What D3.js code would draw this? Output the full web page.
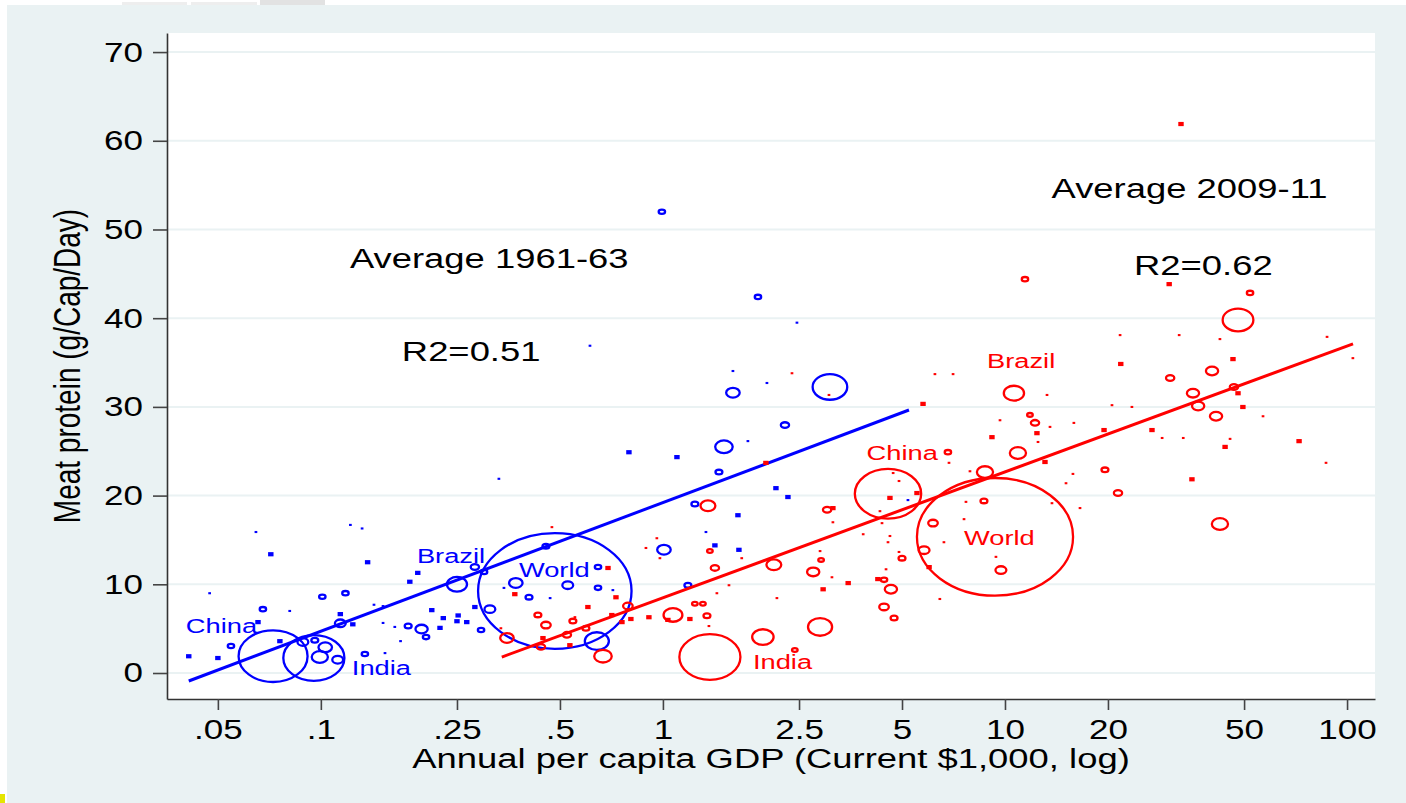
<!DOCTYPE html>
<html>
<head>
<meta charset="utf-8">
<script src="https://cdn.jsdelivr.net/npm/d3@7"></script>
<style>
  body { margin: 0; background: #fff; }
  text { font-family: "Liberation Sans", Arial, sans-serif; }
</style>
</head>
<body>
<div id="chart"></div>
<script>
// [gdp ($1,000), meat protein (g/cap/day), population (millions)]
const avg1961 = [
  [0.0646, 15.9, 0.9], [0.122, 16.7, 0.9], [0.132, 16.3, 0.9], [0.0714, 13.4, 3.6],
  [0.137, 12.5, 3.6], [0.192, 11.3, 3.6], [0.182, 10.3, 3.6], [0.0473, 9.0, 0.9],
  [0.101, 8.6, 9.7], [0.118, 9.0, 9.7], [0.0677, 7.2, 9.7], [0.0811, 7.0, 0.9],
  [0.114, 6.65, 3.6], [0.0655, 5.75, 3.6], [0.114, 5.6, 22], [0.124, 5.5, 3.6],
  [0.143, 7.7, 0.9], [0.152, 7.55, 0.9], [0.211, 7.1, 3.6], [0.228, 6.2, 3.6],
  [0.223, 5.1, 3.6], [0.252, 6.5, 3.6], [0.25, 5.85, 3.6], [0.267, 5.75, 3.6],
  [0.18, 5.3, 10.9], [0.197, 4.95, 27], [0.203, 4.05, 9.7], [0.152, 5.65, 0.9],
  [0.1645, 5.2, 0.9], [0.171, 3.6, 0.9], [0.0546, 3.05, 9.7], [0.0411, 1.9, 3.6],
  [0.05, 1.7, 3.6], [0.0759, 3.6, 3.6], [0.0725, 1.9, 649], [0.0954, 1.7, 513],
  [0.0886, 3.5, 22], [0.096, 3.7, 10.9], [0.103, 2.9, 32], [0.0993, 1.8, 43.6],
  [0.112, 1.5, 22], [0.1345, 2.15, 9.7], [0.154, 2.25, 0.9], [0.25, 10.0, 64],
  [0.282, 11.95, 14.2], [0.30, 11.4, 9.7], [0.282, 7.45, 3.6], [0.312, 7.2, 22],
  [0.294, 4.85, 9.7], [0.483, 9.25, 3098], [0.3715, 10.15, 32], [0.406, 8.55, 10.9],
  [0.527, 9.9, 22], [0.646, 11.95, 9.7], [0.646, 9.6, 9.7], [0.455, 14.3, 10.9],
  [0.343, 9.6, 0.9], [0.468, 8.45, 0.9], [0.714, 9.35, 0.9], [0.641, 3.6, 89],
  [1.007, 13.9, 32], [1.24, 19.05, 10.9], [1.336, 15.9, 0.9], [1.419, 14.4, 3.6],
  [1.183, 9.9, 10.9], [1.896, 42.4, 9.7], [2.465, 39.5, 0.9], [1.602, 34.05, 0.9],
  [2.014, 32.7, 0.9], [1.602, 31.6, 32], [3.078, 32.25, 174], [2.274, 27.95, 14.2],
  [1.772, 26.15, 0.9], [1.508, 25.5, 50], [0.7955, 24.9, 3.6], [1.099, 24.35, 3.6],
  [1.458, 22.65, 10.9], [2.14, 20.85, 3.6], [2.32, 19.85, 3.6], [1.657, 17.8, 3.6],
  [1.668, 13.9, 3.6], [5.204, 19.5, 0.9], [0.993, 52.0, 9.7], [0.612, 36.9, 0.9],
  [0.3315, 21.9, 0.9]
];

const avg2009 = [
  [32.7, 61.9, 7.7], [11.44, 44.4, 20.9], [30.2, 43.85, 7.7], [52.05, 42.85, 20.9],
  [48.0, 39.8, 300], [21.7, 38.1, 1.9], [32.3, 38.1, 1.9], [42.5, 37.65, 1.9],
  [87.4, 37.9, 1.9], [104, 35.5, 1.9], [46.4, 35.4, 7.7], [21.8, 34.85, 7.7],
  [6.24, 33.7, 1.9], [7.05, 33.7, 1.9], [30.4, 33.25, 30.7], [40.3, 34.05, 58],
  [10.62, 31.55, 140], [13.27, 31.35, 1.9], [46.7, 32.25, 30.7], [48.0, 31.55, 7.7],
  [35.45, 31.55, 58], [49.6, 30.0, 7.7], [36.7, 30.1, 58], [41.4, 28.95, 58],
  [5.76, 30.35, 7.7], [11.83, 29.1, 17.3], [12.24, 28.2, 30.7], [9.67, 28.5, 1.9],
  [13.54, 27.75, 1.9], [15.9, 28.2, 1.9], [20.55, 30.2, 1.9], [23.5, 30.0, 1.9],
  [9.16, 26.6, 7.7], [19.48, 27.4, 7.7], [26.9, 27.4, 7.7], [28.8, 26.5, 1.9],
  [33.2, 26.5, 1.9], [45.5, 26.4, 1.9], [56.8, 28.95, 1.9], [44.0, 25.5, 7.7],
  [72.4, 26.15, 7.7], [86.8, 23.7, 1.9], [10.91, 24.8, 94], [13.09, 23.8, 7.7],
  [12.4, 27.05, 7.7], [12.49, 26.05, 1.9], [19.6, 22.9, 23.5], [15.8, 22.45, 1.9],
  [15.08, 21.4, 1.9], [35.2, 21.85, 7.7], [21.4, 20.3, 30.7], [16.57, 18.6, 1.9],
  [13.72, 19.15, 1.9], [42.5, 16.8, 94], [8.74, 22.65, 94], [7.9, 22.75, 1.9],
  [6.86, 23.7, 1.9], [6.81, 24.9, 20.9], [8.68, 19.4, 23.5], [7.69, 19.3, 1.9],
  [7.59, 17.35, 1.9], [6.63, 14.75, 1.9], [4.55, 20.2, 1297], [4.61, 19.75, 7.7],
  [5.53, 20.3, 7.7], [4.71, 22.55, 1.9], [4.9, 21.65, 1.9], [9.35, 15.35, 6906],
  [6.16, 16.9, 38.8], [5.8, 13.85, 48], [6.0, 11.95, 7.7], [9.73, 11.6, 48],
  [9.41, 13.1, 1.9], [5.0, 12.95, 23.5], [4.9, 13.65, 1.9], [4.61, 15.45, 1.9],
  [4.55, 14.75, 1.9], [3.85, 15.65, 1.9], [4.25, 10.6, 7.7], [4.43, 10.5, 20.9],
  [4.49, 11.7, 1.9], [4.64, 9.45, 58], [4.43, 7.45, 38.8], [4.74, 6.2, 23.5],
  [6.45, 8.35, 1.9], [4.31, 18.25, 1.9], [4.37, 16.9, 1.9], [3.48, 10.15, 7.7],
  [2.94, 9.45, 7.7], [3.12, 10.8, 1.9], [2.75, 11.4, 58], [2.9, 12.75, 17.3],
  [2.88, 13.75, 1.9], [3.14, 17.0, 1.9], [3.02, 18.4, 30.7], [3.14, 18.6, 7.7],
  [2.11, 12.2, 81], [1.70, 12.95, 1.9], [1.372, 13.75, 17.3], [1.419, 11.85, 30.7],
  [1.354, 18.85, 81], [0.96, 15.2, 1.9], [0.892, 14.1, 1.9], [0.98, 12.95, 1.9],
  [0.691, 11.85, 7.7], [0.369, 8.9, 7.7], [0.729, 8.55, 7.7], [0.6035, 7.45, 7.7],
  [0.79, 7.55, 38.8], [0.709, 6.55, 7.7], [0.759, 5.75, 7.7], [0.806, 6.1, 7.7],
  [0.91, 6.3, 7.7], [1.07, 6.55, 123], [1.034, 6.0, 7.7], [1.199, 6.1, 7.7],
  [1.24, 7.8, 17.3], [1.309, 7.8, 17.3], [1.345, 6.45, 23.5], [1.438, 9.0, 1.9],
  [1.56, 9.9, 1.9], [1.363, 5.3, 1.9], [2.154, 8.45, 1.9], [2.88, 5.2, 192],
  [1.96, 4.05, 155], [2.43, 2.6, 17.3], [1.372, 1.8, 1105], [0.668, 1.9, 108],
  [0.35, 3.95, 69], [0.336, 5.05, 1.9], [0.431, 6.55, 23.5], [0.455, 5.4, 38.8],
  [0.5455, 5.85, 23.5], [0.553, 6.3, 1.9], [0.5954, 5.05, 23.5], [0.524, 4.3, 30.7],
  [0.446, 3.95, 7.7], [0.5346, 3.15, 7.7], [0.44, 2.95, 30.7], [0.4737, 16.45, 1.9],
  [2.0, 23.7, 7.7], [2.384, 33.8, 1.9], [3.058, 31.35, 1.9]
];

// fitted lines (end points)
const fit1961 = [[0.0411, -0.9], [5.24, 29.65]];
const fit2009 = [[0.338, 1.8], [104.1, 37.1]];

// country labels: [text, gdp, protein]
const labels1961 = [["China", 0.0403, 4.5], ["India", 0.1232, -0.23], ["Brazil", 0.1909, 12.4], ["World", 0.3793, 10.82]];
const labels2009 = [["Brazil", 8.86, 34.4], ["China", 3.94, 24.0], ["World", 7.59, 14.43], ["India", 1.833, 0.45]];

// notes: [text, gdp, protein]
const notes = [["Average 1961-63", 0.1216, 45.66], ["R2=0.51", 0.1725, 35.17],
               ["Average 2009-11", 13.68, 53.55], ["R2=0.62", 23.84, 44.87]];

const xTicks = [0.05, 0.1, 0.25, 0.5, 1, 2.5, 5, 10, 20, 50, 100];
const xTickLabels = [".05", ".1", ".25", ".5", "1", "2.5", "5", "10", "20", "50", "100"];
const yTicks = [0, 10, 20, 30, 40, 50, 60, 70];

const width = 1406, height = 803;
const plot = { left: 167, right: 1375, top: 33, bottom: 699 };
const bg = "#eaf2f3";
const stretch = 1.3; // text is drawn a bit wide, as in the original

const svg = d3.select("#chart").append("svg")
  .attr("width", width)
  .attr("height", height);

// outer background
svg.append("rect").attr("x", 7).attr("y", 5).attr("width", width - 7).attr("height", height - 5).attr("fill", bg);
svg.append("rect").attr("x", 122).attr("y", 2).attr("width", 65).attr("height", 3).attr("fill", "#eeeeee");
svg.append("rect").attr("x", 191).attr("y", 2).attr("width", 66).attr("height", 3).attr("fill", "#eeeeee");
svg.append("rect").attr("x", 260).attr("y", 0).attr("width", 65).attr("height", 5).attr("fill", "#e2e2e2");
svg.append("rect").attr("x", 0).attr("y", 794).attr("width", 5).attr("height", 9).attr("fill", "#e5e500");

svg.append("rect")
  .attr("x", plot.left).attr("y", plot.top)
  .attr("width", plot.right - plot.left).attr("height", plot.bottom - plot.top)
  .attr("fill", "#fff");

// scales
const x = d3.scaleLog().domain([0.0355, 120.7]).range([plot.left, plot.right]);
const y = d3.scaleLinear().domain([-2.93, 72.15]).range([plot.bottom, plot.top]);
const r1961 = d3.scaleSqrt().domain([0, 3098]).range([0, 59]);
const r2009 = d3.scaleSqrt().domain([0, 6906]).range([0, 60]);

// gridlines
svg.append("g")
  .selectAll("line")
  .data(yTicks)
  .enter()
  .append("line")
  .attr("x1", plot.left).attr("x2", plot.right)
  .attr("y1", d => y(d)).attr("y2", d => y(d))
  .attr("stroke", bg)
  .attr("stroke-width", 2);

function wideText(g, str, px, py, size, color) {
  return g.append("text")
    .attr("transform", `translate(${px},${py}) scale(${stretch},1)`)
    .style("font-size", size + "px")
    .attr("fill", color)
    .text(str);
}

function drawPoints(data, color, rScale) {
  const g = svg.append("g");
  const small = data.filter(d => rScale(d[2]) < 2.6);
  const big = data.filter(d => rScale(d[2]) >= 2.6);

  g.selectAll("rect")
    .data(small)
    .enter()
    .append("rect")
    .attr("x", d => x(d[0]) - rScale(d[2]) * 1.35)
    .attr("y", d => y(d[1]) - rScale(d[2]))
    .attr("width", d => rScale(d[2]) * 2.7)
    .attr("height", d => rScale(d[2]) * 2.1)
    .attr("fill", color);

  g.selectAll("ellipse")
    .data(big)
    .enter()
    .append("ellipse")
    .attr("cx", d => x(d[0]))
    .attr("cy", d => y(d[1]))
    .attr("rx", d => rScale(d[2]) * 1.32 - 1.15)
    .attr("ry", d => rScale(d[2]) - 1.15)
    .attr("fill", "none")
    .attr("stroke", color)
    .attr("stroke-width", 2.3);
}

function drawFit(fit, color) {
  svg.append("line")
    .attr("x1", x(fit[0][0])).attr("y1", y(fit[0][1]))
    .attr("x2", x(fit[1][0])).attr("y2", y(fit[1][1]))
    .attr("stroke", color)
    .attr("stroke-width", 3);
}

drawPoints(avg1961, "#0000ff", r1961);
drawFit(fit1961, "#0000ff");
drawPoints(avg2009, "#ff0000", r2009);
drawFit(fit2009, "#ff0000");

// labels
const lab = svg.append("g");
labels1961.forEach(d => wideText(lab, d[0], x(d[1]), y(d[2]), 21, "#0000ff"));
labels2009.forEach(d => wideText(lab, d[0], x(d[1]), y(d[2]), 21, "#ff0000"));
notes.forEach(d => wideText(lab, d[0], x(d[1]), y(d[2]), 28, "#000"));

// y axis
const yAxis = svg.append("g")
  .attr("transform", `translate(${plot.left},0)`)
  .call(d3.axisLeft(y).tickValues(yTicks).tickSize(14).tickSizeOuter(0).tickPadding(10));
yAxis.select(".domain").attr("stroke", "#333").attr("stroke-width", 1.6);
yAxis.selectAll(".tick line").attr("stroke", "#444").attr("stroke-width", 1.6);
yAxis.selectAll(".tick text")
  .attr("x", -24 / 1.25)
  .attr("transform", "scale(1.25,1)")
  .style("font-size", "28px")
  .attr("fill", "#000");

// x axis
const xAxis = svg.append("g")
  .attr("transform", `translate(0,${plot.bottom})`)
  .call(d3.axisBottom(x).tickValues(xTicks).tickFormat((d, i) => xTickLabels[i])
    .tickSize(11).tickSizeOuter(0).tickPadding(9));
xAxis.select(".domain").attr("stroke", "#333").attr("stroke-width", 1.6);
xAxis.selectAll(".tick line").attr("stroke", "#444").attr("stroke-width", 1.6);
xAxis.selectAll(".tick text")
  .attr("transform", "scale(1.25,1)")
  .style("font-size", "28px")
  .attr("fill", "#000");

// axis titles
wideText(svg, "Annual per capita GDP (Current $1,000, log)", (plot.left + plot.right) / 2, 768, 28, "#000")
  .attr("text-anchor", "middle");

svg.append("text")
  .attr("transform", `translate(80,${(plot.top + plot.bottom) / 2}) scale(${stretch},1) rotate(-90)`)
  .attr("text-anchor", "middle")
  .style("font-size", "28px")
  .attr("fill", "#000")
  .text("Meat protein (g/Cap/Day)");
</script>
</body>
</html>
